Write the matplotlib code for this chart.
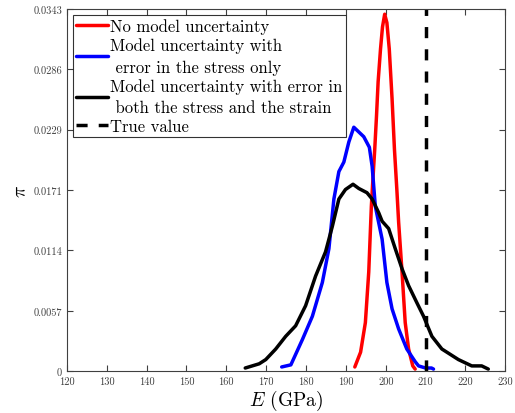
import numpy as np
import matplotlib
matplotlib.use("Agg")
import matplotlib.pyplot as plt

plt.rcParams['font.family'] = 'serif'
plt.rcParams['font.serif'] = ['cmr10']
plt.rcParams['mathtext.fontset'] = 'cm'
plt.rcParams['axes.unicode_minus'] = False

# posterior densities of Young's modulus
E_red = [192.25, 193.7, 194.9, 195.75, 196.4, 196.75, 197.25, 197.7, 198.1, 198.7, 199.2,
         199.75, 200.3, 200.9, 201.6, 202.2, 202.8, 203.25, 204.1, 204.9, 205.75, 206.8, 207.4]
pi_red = [0.0004, 0.0018, 0.0046, 0.0094, 0.0156, 0.0179, 0.0210, 0.0242, 0.0274, 0.0305,
          0.0326, 0.0338, 0.0330, 0.0305, 0.0258, 0.0210, 0.0172, 0.0141, 0.0094, 0.0046,
          0.0021, 0.0005, 0.0002]

E_blue = [173.9, 176.2, 179.1, 181.6, 184.1, 185.75, 187, 188.25, 189.5, 190.75, 192, 194.5,
          195.9, 196.6, 197.4, 199.1, 200.3, 201.6, 203.25, 205.3, 207.4, 208.25, 210, 211.5, 212]
pi_blue = [0.0004, 0.0006, 0.0030, 0.0052, 0.0084, 0.0116, 0.0163, 0.0189, 0.0198, 0.0217,
           0.0231, 0.0222, 0.0212, 0.0194, 0.0156, 0.0125, 0.0084, 0.0059, 0.0040, 0.0021,
           0.0009, 0.0005, 0.0003, 0.0003, 0.0002]

E_black = [164.75, 168.25, 169.9, 172.4, 174.9, 177.4, 179.9, 182.4, 184.9, 186.6, 188.25,
           189.9, 191.8, 193.25, 195.3, 196.6, 198.25, 199.1, 200.75, 202.4, 204.1, 205.75,
           207.8, 209.5, 211.6, 214.1, 218.25, 221.6, 224.1, 225.75]
pi_black = [0.0003, 0.0007, 0.0011, 0.0021, 0.0033, 0.0043, 0.0062, 0.0090, 0.0113, 0.0137,
            0.0163, 0.0172, 0.0177, 0.0173, 0.0169, 0.0163, 0.0150, 0.0142, 0.0135, 0.0116,
            0.0097, 0.0081, 0.0065, 0.0052, 0.0033, 0.0021, 0.0011, 0.0005, 0.0005, 0.0002]

E_true = 210
ymax = 0.0343
xticks = np.arange(120, 231, 10)
yticks = np.linspace(0, ymax, 7)
ytick_labels = ['0', '0.0057', '0.0114', '0.0171', '0.0229', '0.0286', '0.0343']

fig = plt.figure(figsize=(5.15, 4.14), dpi=100)
ax = fig.add_axes([0.130, 0.101, 0.851, 0.875])

kw = dict(lw=2.5, solid_joinstyle='round', solid_capstyle='round')
ax.plot(E_red, pi_red, color='#ff0000', label='No model uncertainty', **kw)
ax.plot(E_blue, pi_blue, color='#0000ff',
        label='Model uncertainty with\n error in the stress only', **kw)
ax.plot(E_black, pi_black, color='black',
        label='Model uncertainty with error in\n both the stress and the strain', **kw)
ax.axvline(E_true, color='black', lw=2.5, ls=(0, (3.2, 3.2)), label='True value')

ax.set_xlim(120, 230)
ax.set_ylim(0, ymax)
ax.set_xticks(xticks)
ax.set_yticks(yticks)
ax.set_yticklabels(ytick_labels)
ax.tick_params(direction='in', top=True, right=True, labelsize=7.5,
               labelcolor='#404040', color='#404040', length=4)
for s in ax.spines.values():
    s.set_color('#404040')
    s.set_linewidth(0.8)

ax.set_xlabel('$E$ (GPa)', fontsize=14, labelpad=2)
ax.set_ylabel(r'$\pi$', fontsize=14, labelpad=2)

leg = ax.legend(loc='upper left', fontsize=12, frameon=True, fancybox=False,
                edgecolor='black', handlelength=1.9, handletextpad=0.15,
                borderpad=0.2, labelspacing=0.2, borderaxespad=0.35)
leg.get_frame().set_linewidth(0.8)
for t in leg.get_texts():
    t.set_linespacing(1.5)

fig.savefig('out.png', dpi=100)
